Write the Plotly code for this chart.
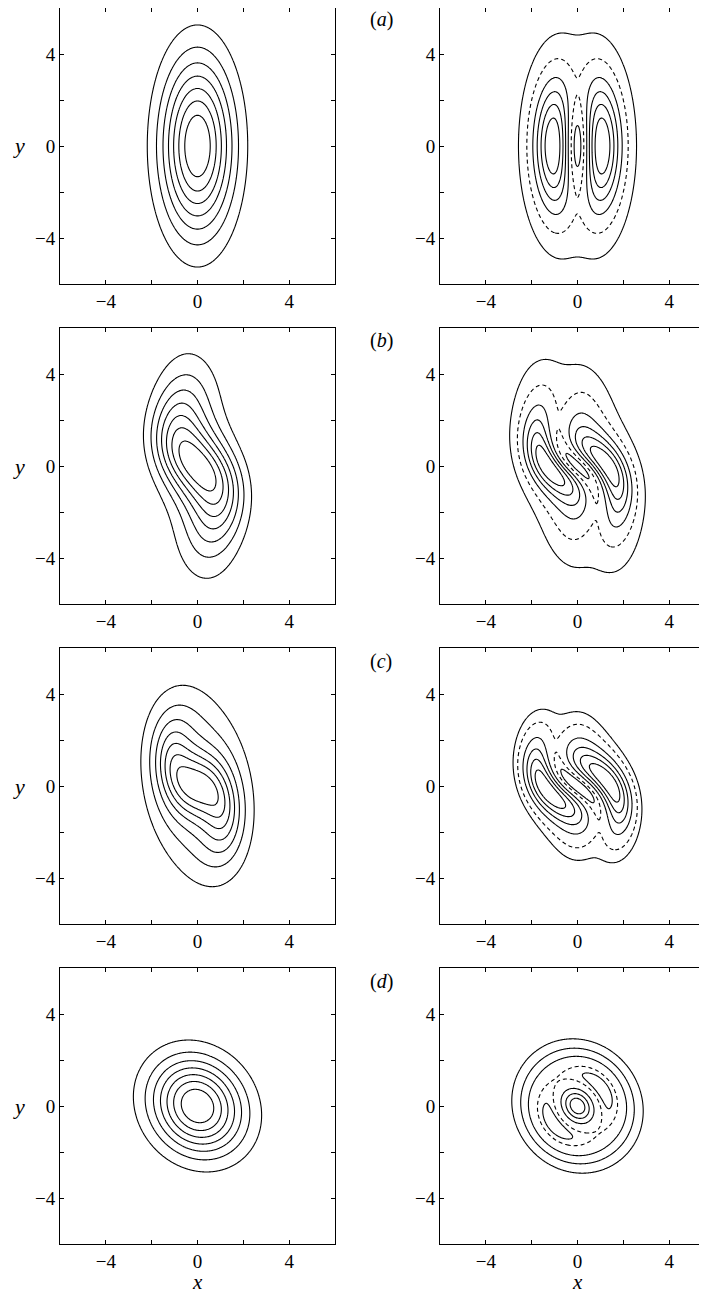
import numpy as np
import plotly.graph_objects as go

# ---------------- data ----------------
row_labels = ["(<i>a</i>)", "(<i>b</i>)", "(<i>c</i>)", "(<i>d</i>)"]

# left column: intensity = elliptic Gaussian whose orientation twists
# from the core to the outskirts
int_minor = [1.52, 1.40, 1.64, 1.82]          # width across the major axis
int_major = [3.65, 3.40, 3.08, 2.10]          # width along the major axis
int_theta_core = [0.0, 38.0, 63.0, 40.0]      # deg, tilt of the major axis (from vertical) at the core
int_theta_out = [0.0, 4.0, 8.0, 40.0]         # deg, tilt in the outskirts
int_twist_radius = [3.0, 2.83, 1.0, 3.0]      # radial twist scale
int_twist_level = [1.0, 1.0, 0.75, 1.0]       # twist scale in elliptic radius
int_twist_mix = [1.0, 1.0, 0.0, 1.0]          # 1 = twist by radius, 0 = by elliptic radius
int_levels = [0.125, 0.25, 0.375, 0.5, 0.625, 0.75, 0.875]

# right column: gradient density of an elliptic Gaussian, deformed by a
# radius-dependent linear map (core map -> outer map)
grad_minor = [1.52, 1.52, 1.52, 1.84]
grad_major = [3.65, 3.65, 3.65, 2.05]
core_m11 = [1.0, 1.242, 1.312, 0.788]
core_m12 = [0.0, -0.566, -0.692, -0.616]
core_m21 = [0.0, 0.109, 0.292, 0.616]
core_m22 = [1.0, 0.592, 0.590, 0.788]
out_m11 = [1.0, 1.05, 1.03, 0.788]
out_m12 = [0.0, -0.10, -0.109, -0.616]
out_m21 = [0.0, -0.15, -0.08, 0.616]
out_m22 = [1.0, 0.93, 0.74, 0.788]
map_radius = [3.0, 2.5, 2.2, 3.0]
rt_solid_levels = [[0.05, 0.333, 0.5, 0.667, 0.833],
                   [0.05, 0.333, 0.5, 0.667, 0.833],
                   [0.08, 0.333, 0.5, 0.667, 0.833],
                   [0.13, 0.3, 0.52, 0.92]]
rt_dashed_levels = [[0.167], [0.167], [0.167], [0.80]]

tick_vals = [-4, -2, 0, 2, 4]
tick_text = ["\u22124", "", "0", "", "4"]

# ---------------- layout geometry (page pixels; page body has an 8px margin) ----------------
OFF = 8
W, H = 707 - OFF, 1293 - OFF
left_px = (60 - OFF, 335 - OFF)
right_px = (440 - OFF, 707 - OFF)
row_px = [(7 - OFF, 284 - OFF), (328 - OFF, 604 - OFF), (648 - OFF, 924 - OFF), (968 - OFF, 1244 - OFF)]
px_per_unit = (left_px[1] - left_px[0]) / 12.0
right_xmax = -6 + (right_px[1] - right_px[0]) / px_per_unit

FONT = "Liberation Serif"

xg = np.linspace(-6, 6, 361)
X, Y = np.meshgrid(xg, xg)
R2 = X**2 + Y**2


def rotate(th):
    return X * np.cos(th) + Y * np.sin(th), -X * np.sin(th) + Y * np.cos(th)


def intensity(k):
    a, b = int_minor[k], int_major[k]
    u0, v0 = rotate(np.radians(int_theta_out[k]))
    q0 = (u0 / a)**2 + (v0 / b)**2
    lam = int_twist_mix[k]
    w = np.exp(-(lam * R2 / int_twist_radius[k]**2 + (1 - lam) * q0 / int_twist_level[k]))
    th = np.radians(int_theta_out[k] + (int_theta_core[k] - int_theta_out[k]) * w)
    u, v = rotate(th)
    f = np.exp(-(u / a)**2 - (v / b)**2)
    return f / f.max()


def gradient_density(k):
    w = np.exp(-R2 / map_radius[k]**2)
    A = out_m11[k] + (core_m11[k] - out_m11[k]) * w
    B = out_m12[k] + (core_m12[k] - out_m12[k]) * w
    C = out_m21[k] + (core_m21[k] - out_m21[k]) * w
    D = out_m22[k] + (core_m22[k] - out_m22[k]) * w
    det = A * D - B * C
    u = (D * X - B * Y) / det
    v = (-C * X + A * Y) / det
    a, b = grad_minor[k], grad_major[k]
    f = (u**2 / a**4 + v**2 / b**4) * np.exp(-2 * (u**2 / a**2 + v**2 / b**2))
    return f / f.max()


fig = go.Figure()


def add_level(z, lev, xa, ya, dash):
    fig.add_trace(go.Contour(
        x=xg, y=xg, z=z, xaxis=xa, yaxis=ya,
        autocontour=False,
        contours=dict(start=lev, end=lev, size=1, coloring="none"),
        line=dict(color="black", width=1.1, dash=dash, smoothing=1),
        showscale=False, hoverinfo="skip"))


annotations = []
for k in range(4):
    il = 2 * k + 1
    ir = 2 * k + 2
    top, bot = row_px[k]
    ydom = [1 - bot / H, min(1.0, 1 - top / H)]
    for idx, xpx, xmax in [(il, left_px, 6), (ir, right_px, right_xmax)]:
        xdom = [xpx[0] / W, xpx[1] / W]
        sfx = "" if idx == 1 else str(idx)
        common = dict(tickmode="array", tickvals=tick_vals, ticktext=tick_text,
                      ticks="inside", ticklen=4, tickwidth=1, tickcolor="black",
                      showline=True, linecolor="black", linewidth=1,
                      showgrid=False, zeroline=False,
                      tickfont=dict(family=FONT, size=19, color="black"))
        fig.layout["xaxis" + sfx] = dict(domain=xdom, range=[-6, xmax], anchor="y" + sfx,
                                        mirror="ticks", **common)
        fig.layout["yaxis" + sfx] = dict(domain=ydom, range=[-6, 6], anchor="x" + sfx,
                                        mirror=("ticks" if idx % 2 == 1 else False), **common)
    sl = "" if il == 1 else str(il)
    zl = intensity(k)
    fig.add_trace(go.Contour(
        x=xg, y=xg, z=zl, xaxis="x" + sl, yaxis="y" + sl,
        autocontour=False,
        contours=dict(start=int_levels[0], end=int_levels[-1],
                      size=int_levels[1] - int_levels[0], coloring="none"),
        line=dict(color="black", width=1.1, smoothing=1),
        showscale=False, hoverinfo="skip"))
    zr = gradient_density(k)
    for lev in rt_solid_levels[k]:
        add_level(zr, lev, "x" + str(ir), "y" + str(ir), "solid")
    for lev in rt_dashed_levels[k]:
        add_level(zr, lev, "x" + str(ir), "y" + str(ir), "4px,3px")

    ymid = 1 - ((row_px[k][0] + row_px[k][1]) / 2) / H
    annotations.append(dict(text="<i>y</i>", x=(19 - OFF) / W, y=ymid, xref="paper", yref="paper",
                            showarrow=False, xanchor="center", yanchor="middle",
                            font=dict(family=FONT, size=22, color="black")))
    annotations.append(dict(text=row_labels[k], x=(381 - OFF) / W,
                            y=1 - (row_px[k][0] + 13) / H,
                            xref="paper", yref="paper", showarrow=False,
                            xanchor="center", yanchor="middle",
                            font=dict(family=FONT, size=20, color="black")))

for xc in [197, 577]:
    annotations.append(dict(text="<i>x</i>", x=(xc - OFF) / W, y=1 - (1282 - OFF) / H,
                            xref="paper", yref="paper",
                            showarrow=False, xanchor="center", yanchor="middle",
                            font=dict(family=FONT, size=21, color="black")))

fig.update_layout(width=W, height=H, autosize=False,
                  margin=dict(l=0, r=0, t=0, b=0),
                  paper_bgcolor="white", plot_bgcolor="white",
                  showlegend=False, annotations=annotations)

fig.write_html("out.html")
